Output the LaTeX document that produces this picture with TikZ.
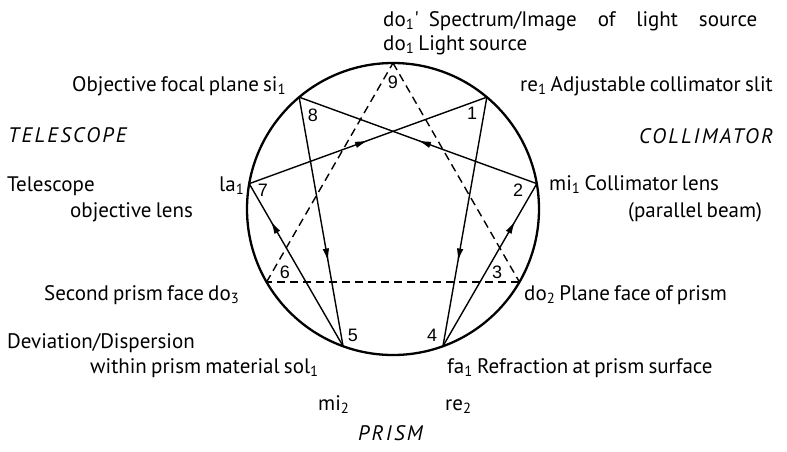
\documentclass[tikz,border=0pt]{standalone}
\usepackage{fontspec}
\setmainfont{PT Sans}[WordSpace=0.75]
\newfontfamily\numfont{Liberation Sans}
\usetikzlibrary{decorations.markings,arrows.meta}
\tikzset{
  lbl/.style={anchor=base west, inner sep=0pt, font=\fontsize{21}{25}\selectfont},
  ital/.style={anchor=base west, inner sep=0pt, font=\fontsize{21}{25}\selectfont\itshape\addfontfeatures{LetterSpace=11}},
  num/.style={inner sep=0pt, font=\fontsize{18}{20}\selectfont\numfont},
  ray/.style={line width=1.4pt, postaction={decorate},
    decoration={markings, mark=at position #1 with {\arrow{Latex[length=13pt,width=6.5pt]}}}},
  tri/.style={line width=1.4pt, dash pattern=on 8pt off 5pt},
  rim/.style={line width=2.3pt},
}
\begin{document}
\begin{tikzpicture}[x=1pt,y=-1pt]
\useasboundingbox (0,0) rectangle (787,451);
\coordinate (c) at (393,209);
\foreach \i/\a in {1/50,2/10,3/-30,4/-70,5/-110,6/-150,7/170,8/130,9/90}
  \coordinate (p\i) at ({393+146*cos(\a)},{209-146*sin(\a)});
\draw[rim] (c) circle[radius=146];
% dashed triangle
\draw[tri] (p9) -- (p3);
\draw[tri] (p3) -- (p6);
\draw[tri] (p6) -- (p9);
% hexad rays
\draw[ray=0.5] (p7) -- (p1);
\draw[ray=0.5] (p2) -- (p8);
\draw[ray=0.77] (p5) -- (p7);
\draw[ray=0.77] (p4) -- (p2);
\draw[ray=0.66] (p8) -- (p5);
\draw[ray=0.66] (p1) -- (p4);
% numbers
\node[num] (n9) at (393,82) {9};
\node[num] (n8) at (313,115) {8};
\node[num] (n1) at (472,113) {1};
\node[num] (n7) at (263,190) {7};
\node[num] (n2) at (518,190) {2};
\node[num] (n6) at (285,272) {6};
\node[num] (n3) at (497,272) {3};
\node[num] (n5) at (353,335) {5};
\node[num] (n4) at (432,335) {4};
% labels
\node[lbl] (t1) at (383,26) {\makebox[374pt][s]{do\textsubscript{1}\textquotesingle\hspace*{10pt}Spectrum/Image of light source}};
\node[lbl] (t2) at (383,50) {do\textsubscript{1} Light source};
\node[lbl] (t3) at (72,91) {Objective focal plane si\textsubscript{1}};
\node[lbl] (t4) at (520,91) {re\textsubscript{1} Adjustable collimator slit};
\node[ital] (t5) at (8,142) {TELESCOPE};
\node[ital] (t6) at (639,143) {COLLIMATOR};
\node[lbl] (t7) at (7,191) {Telescope};
\node[lbl] (t8) at (70,217) {objective lens};
\node[lbl] (t9) at (219,191) {la\textsubscript{1}};
\node[lbl] (t10) at (549,190) {mi\textsubscript{1} Collimator lens};
\node[lbl] (t11) at (628,217) {(parallel beam)};
\node[lbl] (t12) at (44,300) {Second prism face do\textsubscript{3}};
\node[lbl] (t13) at (524,300) {do\textsubscript{2} Plane face of prism};
\node[lbl] (t14) at (7,348) {Deviation/Dispersion};
\node[lbl] (t15) at (90,373) {within prism material sol\textsubscript{1}};
\node[lbl] (t16) at (447,373) {fa\textsubscript{1} Refraction at prism surface};
\node[lbl] (t17) at (318,410) {mi\textsubscript{2}};
\node[lbl] (t18) at (445,410) {re\textsubscript{2}};
\node[ital] (t19) at (358,440) {PRISM};
\end{tikzpicture}
\end{document}
